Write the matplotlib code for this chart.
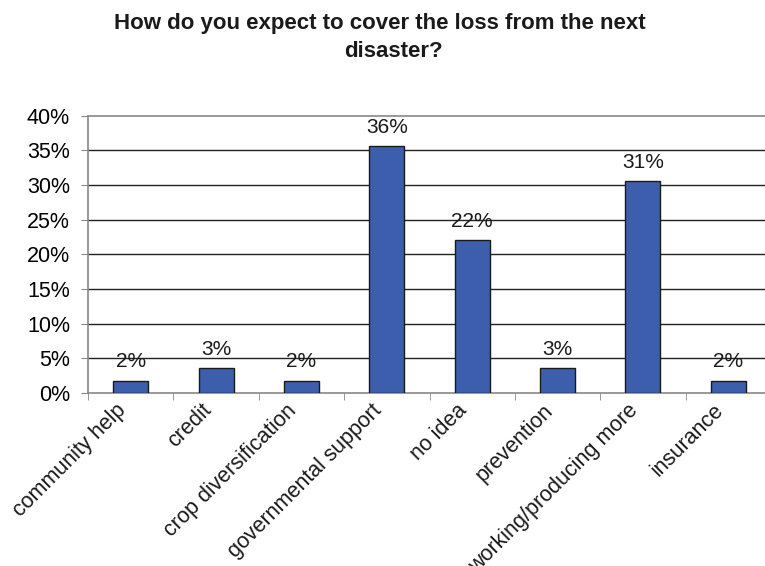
import matplotlib
matplotlib.use("Agg")
import matplotlib.pyplot as plt
import numpy as np
from matplotlib.ticker import FixedLocator, PercentFormatter

categories = ["community help", "credit", "crop diversification", "governmental support",
              "no idea", "prevention", "working/producing more", "insurance"]
values = [1.8, 3.55, 1.8, 35.6, 22.0, 3.55, 30.5, 1.8]
labels = ["2%", "3%", "2%", "36%", "22%", "3%", "31%", "2%"]
yticks = [0, 5, 10, 15, 20, 25, 30, 35, 40]
title_lines = ["How do you expect to cover the loss from the next", "disaster?"]

plt.rcParams['font.family'] = ['Liberation Sans', 'DejaVu Sans']

fig = plt.figure(figsize=(7.65, 5.66), dpi=100)
W, H = 765, 566
left, right, top, bottom = 88, 771, 115.5, 393
ax = fig.add_axes([left / W, 1 - bottom / H, (right - left) / W, (bottom - top) / H])

x = np.arange(len(categories))
ax.bar(x, values, width=0.41, color="#3D5EAD", edgecolor="#1a1a1a", linewidth=1.0, zorder=3)
for xi, v, lab in zip(x, values, labels):
    ax.text(xi, v + 1.3, lab, ha="center", va="bottom", fontsize=15, color="#1a1a1a")

ax.set_xlim(-0.5, 7.5)
ax.set_ylim(0, 40)
ax.set_yticks(yticks)
ax.yaxis.set_major_formatter(PercentFormatter(decimals=0))
for yv in yticks[1:-1]:
    ax.axhline(yv, color="#222222", linewidth=1.0, zorder=1)

ax.set_xticks(x)
ax.set_xticklabels([])
for xi, cat in zip(x, categories):
    ax.annotate(cat, xy=(xi, 0), xycoords=("data", "axes fraction"),
                xytext=(-5.8, -10.3), textcoords="offset points",
                rotation=45, ha="right", va="center", rotation_mode="anchor",
                fontsize=15.5, color="#1a1a1a", annotation_clip=False)
ax.xaxis.set_minor_locator(FixedLocator(np.arange(-0.5, 8, 1)))
ax.tick_params(axis="x", which="major", length=0)
ax.tick_params(axis="x", which="minor", length=5, color="#888888", direction="out")
ax.tick_params(axis="y", length=5, color="#888888", labelsize=15.5, pad=8)

for s in ["left", "bottom", "top"]:
    ax.spines[s].set_color("#888888")
    ax.spines[s].set_linewidth(1.2)
ax.spines["right"].set_visible(False)

fig.text(380 / W, 1 - 29 / H, title_lines[0], ha="center", va="baseline",
         fontsize=16, fontweight="bold", color="#1a1a1a")
fig.text(393 / W, 1 - 57 / H, title_lines[1], ha="center", va="baseline",
         fontsize=16, fontweight="bold", color="#1a1a1a")

fig.savefig("out.png", dpi=100)
